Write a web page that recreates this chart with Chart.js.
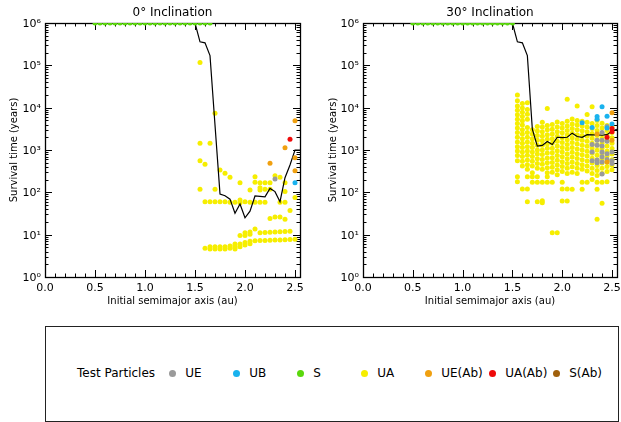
<!DOCTYPE html>
<html>
<head>
<meta charset="utf-8">
<script src="https://cdn.jsdelivr.net/npm/chart.js@4/dist/chart.umd.min.js"></script>
<style>
  html, body { margin: 0; padding: 0; background: #fff; }
  #wrap { position: relative; width: 621px; height: 422px; background: #fff; overflow: hidden;
          font-family: 'DejaVu Sans', sans-serif; color: #000; }
  .panel { position: absolute; top: 0; height: 315px; }
  #legendBox { position: absolute; left: 45px; top: 326px; width: 572px; height: 94px;
               border: 1px solid #222; box-sizing: content-box; }
  .lg-text { position: absolute; font-size: 12px; line-height: 14px; white-space: nowrap; }
  .lg-dot { position: absolute; width: 7px; height: 7px; border-radius: 50%; }
</style>
</head>
<body>
<div id="wrap">
  <div class="panel" style="left:0;width:310px"><canvas id="c0" width="310" height="315"></canvas></div>
  <div class="panel" style="left:318px;width:303px"><canvas id="c30" width="303" height="315"></canvas></div>
  <div id="legendBox"></div>
</div>
<script>
// ---- axes ----
const xTickValues = [0, 0.5, 1.0, 1.5, 2.0, 2.5];
const xTickLabels = ['0.0', '0.5', '1.0', '1.5', '2.0', '2.5'];
const yTickValues = [1, 10, 100, 1e3, 1e4, 1e5, 1e6];
const yTickLabels = ['10⁰', '10¹', '10²', '10³', '10⁴', '10⁵', '10⁶'];

// ---- particle classes ----
const classNames  = ['UE', 'UB', 'S', 'UA', 'UE(Ab)', 'UA(Ab)', 'S(Ab)'];
const classColors = ['#9a9a9a', '#19b2ee', '#5ad80c', '#f6ee00', '#f0a010', '#ee0a0a', '#a0600c'];

// ---- 0° inclination: survival time (yr) vs initial a (au) ----
const incl0_S = [[0.50,1e6],[0.55,1e6],[0.60,1e6],[0.65,1e6],[0.70,1e6],[0.75,1e6],[0.80,1e6],[0.85,1e6],
  [0.90,1e6],[0.95,1e6],[1.00,1e6],[1.05,1e6],[1.10,1e6],[1.15,1e6],[1.20,1e6],[1.25,1e6],[1.30,1e6],
  [1.35,1e6],[1.40,1e6],[1.45,1e6],[1.50,1e6],[1.55,1e6],[1.60,1e6],[1.65,1e6]];
const incl0_UA = [
  [1.55, [117000, 1440, 560, 118]],
  [1.60, [458, 60, 4.8]],
  [1.65, [1440, 60, 5.2, 4.6]],
  [1.70, [7400, 118, 60, 5.2, 4.6]],
  [1.75, [336, 60, 5.2, 4.6]],
  [1.80, [281, 60, 5.2, 4.6]],
  [1.85, [226, 58, 5.4, 4.8]],
  [1.90, [58, 6.0, 5.5, 5.0, 4.6]],
  [1.95, [169, 66, 57, 9.6, 6.0, 5.2]],
  [2.00, [60, 11.1, 9.6, 6.5, 5.7]],
  [2.05, [113, 58, 11.5, 10.2, 7.0, 6.1]],
  [2.10, [234, 172, 58, 13.6, 7.2]],
  [2.15, [169, 129, 113, 58, 11.1, 7.3]],
  [2.20, [169, 118, 58, 11.3, 7.3]],
  [2.25, [169, 118, 24, 11.4, 7.4]],
  [2.30, [247, 26, 11.6, 7.5]],
  [2.35, [226, 58, 26, 11.7, 7.5]],
  [2.40, [169, 104, 58, 23, 11.8, 7.6]],
  [2.45, [37, 12, 7.7]],
  [2.50, [76, 7.8]]
];
const incl0_UE   = [[2.30, 206]];
const incl0_UB   = [[2.50, 169]];
const incl0_UEAb = [[2.25, 484], [2.40, 1135], [2.50, 4900], [2.50, 658], [2.50, 324]];
const incl0_UAAb = [[2.45, 1786]];
const incl0_SAb  = [];
const incl0_medA = [0.50,0.55,0.60,0.65,0.70,0.75,0.80,0.85,0.90,0.95,1.00,1.05,1.10,1.15,1.20,1.25,1.30,1.35,1.40,1.45,
  1.50,1.55,1.60,1.65,1.70,1.75,1.80,1.85,1.90,1.95,2.00,2.05,2.10,2.15,2.20,2.25,2.30,2.35,2.40,2.45,2.50,2.55];
const incl0_medT = [1e6,1e6,1e6,1e6,1e6,1e6,1e6,1e6,1e6,1e6,1e6,1e6,1e6,1e6,1e6,1e6,1e6,1e6,1e6,1e6,
  1e6,360000,340000,170000,3900,91,83,69,32,53,25,36,82,80,78,124,104,60,222,442,1000,1000];

// ---- 30° inclination ----
const incl30_S = [[0.50,1e6],[0.55,1e6],[0.60,1e6],[0.65,1e6],[0.70,1e6],[0.75,1e6],[0.80,1e6],[0.85,1e6],
  [0.90,1e6],[0.95,1e6],[1.00,1e6],[1.05,1e6],[1.10,1e6],[1.15,1e6],[1.20,1e6],[1.25,1e6],[1.30,1e6],
  [1.35,1e6],[1.40,1e6],[1.45,1e6],[1.50,1e6]];
const incl30_UA = [
  [1.55, [20000, 14500, 11000, 8700, 6800, 5300, 4200, 3300, 2600, 2000, 1550, 1200, 950, 740, 560, 234, 178]],
  [1.60, [12500, 9800, 7800, 6200, 4900, 3900, 3000, 2400, 1850, 1450, 1150, 900, 700, 540, 420, 120]],
  [1.65, [13000, 9000, 7000, 5300, 3400, 2600, 2000, 1550, 1200, 950, 750, 580, 450, 350, 234, 120, 60]],
  [1.70, [3000, 2400, 1850, 1450, 1150, 900, 700, 540, 420, 290, 234, 172]],
  [1.75, [3600, 2800, 2200, 1700, 1300, 1000, 800, 620, 480, 370, 234, 172, 60]],
  [1.80, [4500, 3500, 2700, 2100, 1650, 1300, 1000, 780, 600, 460, 350, 172, 63, 57]],
  [1.85, [9600, 3800, 3000, 2300, 1800, 1400, 1100, 850, 650, 500, 380, 290, 234, 172]],
  [1.90, [4000, 3100, 2400, 1850, 1450, 1100, 860, 660, 510, 390, 300, 172, 11.1]],
  [1.95, [4600, 3500, 2700, 2100, 1600, 1250, 960, 740, 570, 440, 340, 260, 11.1]],
  [2.00, [4200, 3300, 2550, 1950, 1500, 1150, 900, 690, 530, 410, 310, 172, 120, 62]],
  [2.05, [15800, 4800, 3700, 2900, 2250, 1750, 1350, 1050, 800, 620, 480, 370, 280, 120, 62]],
  [2.10, [5400, 4100, 3200, 2500, 1950, 1500, 1150, 880, 680, 520, 400, 300, 118]],
  [2.15, [11000, 5000, 3900, 3000, 2300, 1800, 1380, 1060, 820, 630, 480, 370, 280]],
  [2.20, [4800, 3700, 2850, 2200, 1700, 1300, 1000, 770, 590, 450, 350, 172, 118]],
  [2.25, [6900, 4500, 3500, 2700, 2100, 1600, 1220, 940, 720, 550, 420, 320, 172]],
  [2.30, [10500, 4200, 3200, 2450, 1900, 1450, 1100, 840, 640, 490, 370, 280, 200]],
  [2.35, [5000, 3800, 2900, 2200, 1700, 1300, 990, 750, 570, 430, 330, 250, 172, 118, 23]],
  [2.40, [4300, 3300, 2500, 1900, 1450, 1100, 840, 640, 490, 370, 280, 172, 55]],
  [2.45, [3800, 2900, 2200, 1650, 1250, 950, 720, 540, 410, 310, 178]],
  [2.50, [3500, 2600, 1950, 1450, 1080, 800, 590, 440, 340]]
];
const incl30_UE = [[2.30,1350],[2.30,900],[2.30,560],[2.35,1700],[2.35,1300],[2.35,580],[2.35,500],
  [2.40,2600],[2.40,1700],[2.40,1250],[2.40,900],[2.40,690],[2.40,520],[2.40,270],
  [2.45,3600],[2.45,1600],[2.45,820],[2.45,600],[2.50,900],[2.50,560],[2.50,480]];
const incl30_UB   = [[2.20,4400],[2.30,3400],[2.35,6200],[2.35,5300],[2.40,10500],[2.45,6300],[2.45,3300],[2.50,4100]];
const incl30_UEAb = [[2.50,7600],[2.35,2400],[2.50,1700],[2.45,520]];
const incl30_UAAb = [[2.50,3200],[2.45,2000],[2.50,2700]];
const incl30_SAb  = [];
const incl30_medA = incl0_medA;
const incl30_medT = [1e6,1e6,1e6,1e6,1e6,1e6,1e6,1e6,1e6,1e6,1e6,1e6,1e6,1e6,1e6,1e6,1e6,1e6,1e6,1e6,
  1e6,360000,340000,170000,3100,1230,1280,1580,1350,2000,1970,2000,2500,2080,2000,2300,2280,2260,2250,2300,2800,3100];

// ---- helpers ----
const FONT = 'DejaVu Sans';
Chart.defaults.font.family = FONT;
Chart.defaults.color = '#000';

const pairs = list => list.map(([a, t]) => ({ x: a, y: t }));
const columns = cols => cols.flatMap(([a, ts]) => ts.map(t => ({ x: a, y: t })));
const line = (as, ts) => as.map((a, i) => ({ x: a, y: ts[i] }));

// inward box ticks on all four sides, IDL style
const boxTicks = {
  id: 'boxTicks',
  beforeDatasetsDraw(chart) {
    const { ctx, chartArea: a } = chart;
    const xs = chart.scales.x, ys = chart.scales.y;
    ctx.save();
    ctx.strokeStyle = '#000';
    ctx.lineWidth = 1;
    ctx.beginPath();
    for (let i = 0; i <= 25; i++) {
      const px = Math.round(xs.getPixelForValue(i / 10)) + 0.5;
      const len = i % 5 === 0 ? 7 : 3.5;
      ctx.moveTo(px, a.bottom); ctx.lineTo(px, a.bottom - len);
      ctx.moveTo(px, a.top); ctx.lineTo(px, a.top + len);
    }
    for (let d = 0; d <= 6; d++) {
      for (let m = 1; m <= 9; m++) {
        if (d === 6 && m > 1) break;
        const py = Math.round(ys.getPixelForValue(m * Math.pow(10, d))) + 0.5;
        const len = m === 1 ? 7 : 3.5;
        ctx.moveTo(a.left, py); ctx.lineTo(a.left + len, py);
        ctx.moveTo(a.right, py); ctx.lineTo(a.right - len, py);
      }
    }
    ctx.stroke();
    ctx.lineWidth = 1.3;
    ctx.strokeRect(Math.round(a.left) + 0.5, Math.round(a.top) + 0.5,
                   Math.round(a.right - a.left), Math.round(a.bottom - a.top));
    ctx.restore();
  }
};

function scatterSet(label, data, color, order) {
  return { label, data, order, showLine: false, backgroundColor: color, borderWidth: 0,
           pointRadius: 2.5, pointHoverRadius: 2.5 };
}

function makePanel(canvasId, title, sets, padRight, yTitlePad) {
  return new Chart(document.getElementById(canvasId), {
    type: 'scatter',
    data: {
      datasets: [
        scatterSet('UA', sets.UA, classColors[3], 9),
        { label: 'median', data: sets.median, order: 8, showLine: true, borderColor: '#000',
          borderWidth: 1.2, pointRadius: 0, pointHoverRadius: 0, clip: 0, tension: 0 },
        scatterSet('S', sets.S, classColors[2], 6),
        scatterSet('UE', sets.UE, classColors[0], 5),
        scatterSet('UB', sets.UB, classColors[1], 4),
        scatterSet('UE(Ab)', sets.UEAb, classColors[4], 3),
        scatterSet('UA(Ab)', sets.UAAb, classColors[5], 2),
        scatterSet('S(Ab)', sets.SAb, classColors[6], 1)
      ]
    },
    options: {
      responsive: false,
      animation: false,
      events: [],
      layout: { padding: { left: 0, right: padRight, top: 0, bottom: 0 } },
      plugins: {
        legend: { display: false },
        tooltip: { enabled: false },
        title: { display: true, text: title, fullSize: false, color: '#000',
                 font: { family: FONT, size: 12, weight: 'normal' },
                 padding: { top: 6, bottom: 2.6 } }
      },
      scales: {
        x: {
          type: 'linear', min: 0, max: 2.55,
          afterBuildTicks: s => { s.ticks = xTickValues.map(v => ({ value: v })); },
          afterFit: s => { s.height = 38; s.paddingLeft = 0; s.paddingRight = 0; },
          grid: { display: false, drawTicks: false },
          border: { display: false },
          ticks: { autoSkip: false, maxRotation: 0, padding: 5, color: '#000',
                   font: { family: FONT, size: 11 },
                   callback: (v, i) => xTickLabels[i] },
          title: { display: true, text: 'Initial semimajor axis (au)', color: '#000',
                   font: { family: FONT, size: 10 }, padding: { top: 0, bottom: 8 } }
        },
        y: {
          type: 'logarithmic', min: 1, max: 1e6,
          afterBuildTicks: s => { s.ticks = yTickValues.map(v => ({ value: v })); },
          afterFit: s => { s.width = 45; s.paddingTop = 0; s.paddingBottom = 0; },
          grid: { display: false, drawTicks: false },
          border: { display: false },
          ticks: { autoSkip: false, padding: 4, labelOffset: 1, color: '#000',
                   font: { family: FONT, size: 11 },
                   callback: (v, i) => yTickLabels[i] },
          title: { display: true, text: 'Survival time (years)', color: '#000',
                   font: { family: FONT, size: 10 }, padding: { top: yTitlePad, bottom: 0 } }
        }
      }
    },
    plugins: [boxTicks]
  });
}

makePanel('c0', '0° Inclination', {
  UA: columns(incl0_UA), S: pairs(incl0_S), UE: pairs(incl0_UE), UB: pairs(incl0_UB),
  UEAb: pairs(incl0_UEAb), UAAb: pairs(incl0_UAAb), SAb: pairs(incl0_SAb),
  median: line(incl0_medA, incl0_medT)
}, 10, 8);

makePanel('c30', '30° Inclination', {
  UA: columns(incl30_UA), S: pairs(incl30_S), UE: pairs(incl30_UE), UB: pairs(incl30_UB),
  UEAb: pairs(incl30_UEAb), UAAb: pairs(incl30_UAAb), SAb: pairs(incl30_SAb),
  median: line(incl30_medA, incl30_medT)
}, 4, 9);

// ---- legend ----
const wrap = document.getElementById('wrap');
function addText(txt, left, top) {
  const el = document.createElement('div');
  el.className = 'lg-text';
  el.textContent = txt;
  el.style.left = left + 'px';
  el.style.top = top + 'px';
  wrap.appendChild(el);
}
const legendY = 373;
addText('Test Particles', 77, legendY - 7);
classNames.forEach((name, i) => {
  const cx = 172.7 + 64 * i;
  const dot = document.createElement('div');
  dot.className = 'lg-dot';
  dot.style.background = classColors[i];
  dot.style.left = (cx - 3.5) + 'px';
  dot.style.top = (legendY - 3.5) + 'px';
  wrap.appendChild(dot);
  addText(name, cx + 12.5, legendY - 7);
});
</script>
</body>
</html>
